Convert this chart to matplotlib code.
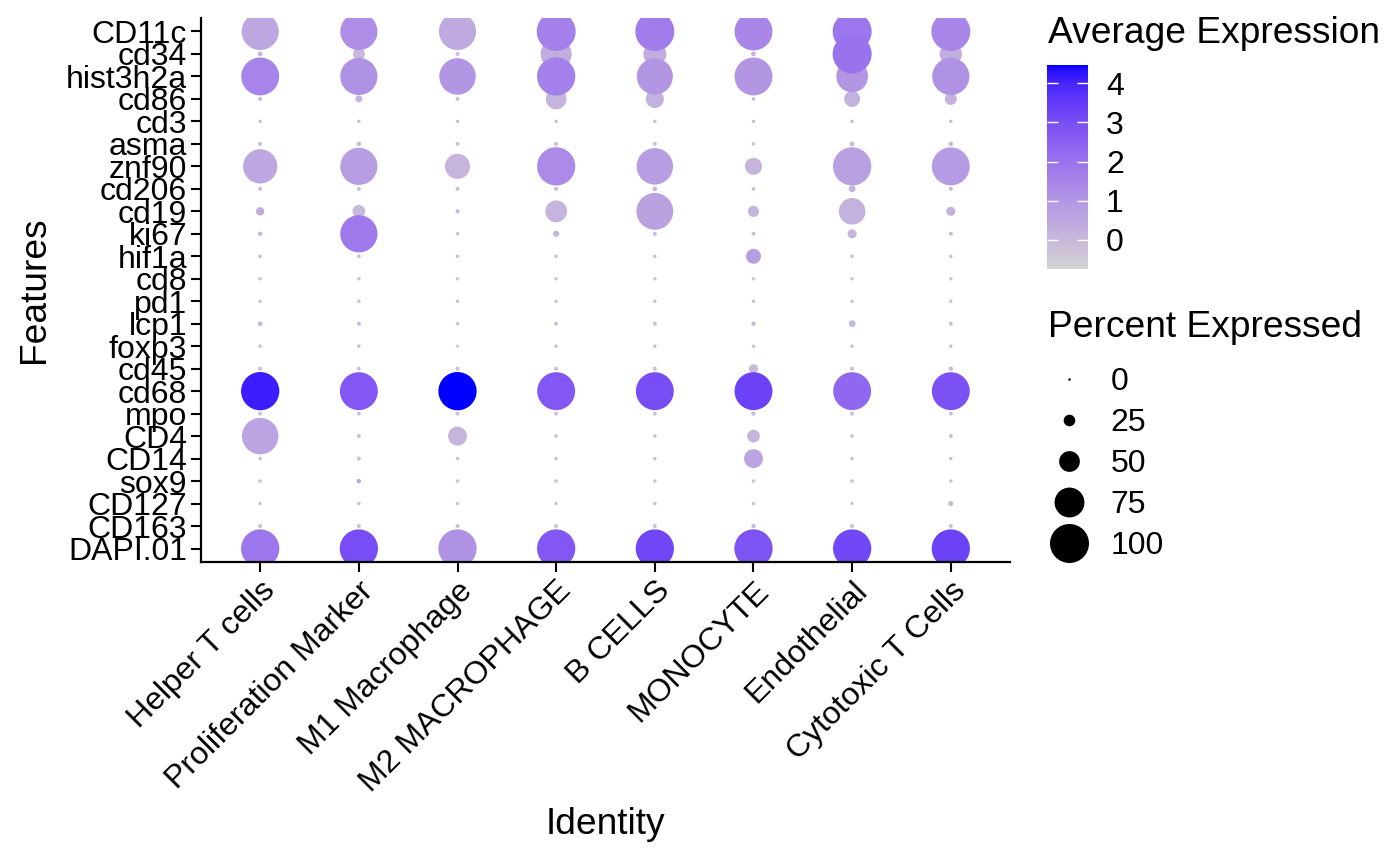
import numpy as np
import matplotlib
matplotlib.use("Agg")
import matplotlib.pyplot as plt
from matplotlib.colors import ListedColormap, Normalize
from matplotlib.cm import ScalarMappable
from matplotlib.lines import Line2D

plt.rcParams['font.family'] = ['Liberation Sans', 'DejaVu Sans']

# data (features listed top to bottom as shown on the y axis)
features = ["CD11c", "cd34", "hist3h2a", "cd86", "cd3", "asma", "znf90", "cd206",
            "cd19", "ki67", "hif1a", "cd8", "pd1", "lcp1", "foxp3", "cd45", "cd68",
            "mpo", "CD4", "CD14", "sox9", "CD127", "CD163", "DAPI.01"]

identities = ["Helper T cells", "Proliferation Marker", "M1 Macrophage", "M2 MACROPHAGE",
              "B CELLS", "MONOCYTE", "Endothelial", "Cytotoxic T Cells"]

pct_expressed = [
    [95, 95, 95, 100, 100, 97, 100, 100],
    [6, 26, 4, 78, 56, 6, 100, 54],
    [97, 95, 93, 98, 92, 97, 80, 95],
    [4, 12, 4, 50, 43, 3, 37, 26],
    [3, 3, 3, 3, 3, 3, 3, 3],
    [4, 6, 4, 4, 4, 3, 6, 6],
    [87, 95, 62, 98, 93, 40, 98, 97],
    [4, 4, 4, 4, 6, 3, 12, 4],
    [16, 28, 4, 53, 94, 24, 66, 18],
    [5, 95, 3, 10, 4, 4, 18, 4],
    [3, 3, 3, 3, 3, 34, 3, 3],
    [3, 3, 3, 3, 3, 3, 3, 3],
    [3, 3, 3, 3, 3, 3, 3, 3],
    [6, 4, 3, 4, 4, 5, 12, 4],
    [3, 3, 3, 3, 3, 3, 3, 3],
    [4, 4, 4, 4, 4, 18, 4, 5],
    [98, 97, 98, 97, 97, 97, 97, 97],
    [4, 4, 4, 4, 4, 5, 4, 4],
    [93, 4, 45, 3, 3, 28, 3, 4],
    [3, 4, 3, 3, 3, 45, 3, 3],
    [3, 5, 3, 3, 3, 3, 3, 3],
    [3, 3, 3, 3, 3, 3, 3, 7],
    [4, 4, 4, 4, 4, 5, 4, 4],
    [98, 98, 98, 98, 98, 98, 98, 98],
]

avg_expression = [
    [0.5, 1.2, 0.4, 1.6, 1.7, 1.4, 1.9, 1.4],
    [0.2, 0.0, 0.0, 0.3, 0.3, 0.1, 2.0, 0.3],
    [1.5, 1.1, 1.0, 1.6, 1.0, 1.0, 1.0, 1.1],
    [0.0, 0.1, -0.1, 0.1, 0.2, -0.1, 0.2, 0.2],
    [-0.2, -0.2, -0.2, -0.2, -0.2, -0.2, -0.2, -0.2],
    [-0.1, 0.0, -0.2, -0.1, -0.1, -0.2, 0.0, 0.0],
    [0.5, 0.8, 0.1, 1.3, 0.8, 0.1, 0.7, 0.85],
    [-0.1, -0.1, -0.2, 0.0, 0.0, -0.1, 0.1, 0.0],
    [0.3, 0.0, 0.1, 0.1, 0.65, 0.1, 0.2, 0.2],
    [0.1, 1.8, -0.2, 0.1, -0.1, -0.1, 0.1, 0.0],
    [-0.2, -0.2, -0.2, -0.2, -0.2, 0.8, -0.2, -0.2],
    [-0.3, -0.3, -0.3, -0.3, -0.3, -0.3, -0.3, -0.3],
    [-0.3, -0.3, -0.3, -0.3, -0.3, -0.3, -0.3, -0.3],
    [0.1, 0.0, -0.2, -0.1, -0.1, 0.0, 0.0, -0.1],
    [-0.3, -0.3, -0.74, -0.3, -0.3, -0.3, -0.3, -0.3],
    [-0.1, -0.1, -0.1, -0.1, -0.1, 0.0, -0.1, 0.0],
    [4.1, 2.75, 4.46, 2.75, 3.0, 3.3, 2.3, 2.9],
    [-0.2, -0.2, -0.2, -0.2, -0.2, -0.1, -0.2, -0.2],
    [0.6, -0.1, 0.1, -0.2, -0.2, 0.1, -0.2, -0.1],
    [-0.2, -0.2, -0.2, -0.2, -0.2, 0.6, -0.2, -0.2],
    [-0.2, 0.5, -0.2, -0.2, -0.2, -0.2, -0.2, -0.2],
    [-0.3, -0.3, -0.3, -0.3, -0.3, -0.3, -0.3, 0.0],
    [-0.2, -0.2, -0.2, -0.2, -0.2, 0.0, -0.2, -0.2],
    [1.9, 3.0, 1.1, 2.75, 3.2, 2.85, 3.15, 3.3],
]

legend_pcts = [0, 25, 50, 75, 100]
color_ticks = [0, 1, 2, 3, 4]

W, H, DPI = 1400, 865, 100


#lab helpers so the gradient looks like ggplot's lightgrey -> blue
WHITE = np.array([0.95047, 1.0, 1.08883])
M_RGB2XYZ = np.array([[0.4124564, 0.3575761, 0.1804375],
                      [0.2126729, 0.7151522, 0.0721750],
                      [0.0193339, 0.1191920, 0.9503041]])


def rgb_to_lab(rgb):
    rgb = np.asarray(rgb, dtype=float)
    lin = np.where(rgb <= 0.04045, rgb / 12.92, ((rgb + 0.055) / 1.055) ** 2.4)
    xyz = M_RGB2XYZ @ lin / WHITE
    d = 6 / 29
    f = np.where(xyz > d ** 3, np.cbrt(xyz), xyz / (3 * d * d) + 4 / 29)
    return np.array([116 * f[1] - 16, 500 * (f[0] - f[1]), 200 * (f[1] - f[2])])


def lab_to_rgb(lab):
    L, a, b = lab
    fy = (L + 16) / 116
    fx = fy + a / 500
    fz = fy - b / 200
    d = 6 / 29
    f = np.array([fx, fy, fz])
    xyz = np.where(f > d, f ** 3, 3 * d * d * (f - 4 / 29)) * WHITE
    lin = np.linalg.solve(M_RGB2XYZ, xyz)
    lin = np.clip(lin, 0, 1)
    rgb = np.where(lin <= 0.0031308, 12.92 * lin, 1.055 * lin ** (1 / 2.4) - 0.055)
    return np.clip(rgb, 0, 1)


def lab_gradient(c_low, c_high, n=256) -> ListedColormap:
    lo = rgb_to_lab(c_low)
    hi = rgb_to_lab(c_high)
    cols = [lab_to_rgb(lo + t * (hi - lo)) for t in np.linspace(0, 1, n)]
    return ListedColormap(cols)


#ggplot-like radius scale, diameter in pixels -> points
def pct_to_diam_pt(pct):
    d_px = 2.5 + 0.365 * np.asarray(pct, dtype=float)
    return d_px * 72 / DPI


cmap = lab_gradient((211 / 255, 211 / 255, 211 / 255), (0, 0, 1))

pct = np.array(pct_expressed)
expr = np.array(avg_expression)
n_feat, n_id = pct.shape

yy, xx = np.meshgrid(n_feat - 1 - np.arange(n_feat), np.arange(n_id), indexing='ij')
xs, ys, ps, es = xx.ravel(), yy.ravel(), pct.ravel(), expr.ravel()
order = np.lexsort((es, ps))

norm = Normalize(vmin=expr.min(), vmax=expr.max())

fig = plt.figure(figsize=(W / DPI, H / DPI), dpi=DPI)
ax = fig.add_axes([201 / W, 1 - 562 / H, (1010 - 201) / W, (562 - 18) / H])

ax.scatter(xs[order], ys[order], s=pct_to_diam_pt(ps[order]) ** 2,
           c=es[order], cmap=cmap, norm=norm, linewidths=0)

ax.set_xlim(-0.6, n_id - 0.4)
ax.set_ylim(-0.6, n_feat - 0.4)
ax.set_xticks(range(n_id))
ax.set_xticklabels(identities, rotation=45, ha='right', rotation_mode='anchor')
ax.set_yticks(range(n_feat))
ax.set_yticklabels(features[::-1])
ax.tick_params(labelsize=23, length=7, width=1.5, pad=3)
for side in ("top", "right"):
    ax.spines[side].set_visible(False)
for side in ("left", "bottom"):
    ax.spines[side].set_linewidth(1.6)

ax.set_xlabel("Identity", fontsize=26.7, labelpad=6)
ax.set_ylabel("Features", fontsize=26.7, labelpad=10)

#colour legend
cax = fig.add_axes([1047 / W, 1 - 269 / H, 41 / W, 204 / H])
cb = fig.colorbar(ScalarMappable(norm=norm, cmap=cmap), cax=cax)
cb.outline.set_visible(False)
cb.set_ticks(color_ticks)
cax.yaxis.set_ticks_position('both')
cax.tick_params(direction='in', colors='white', length=8, width=1, labelsize=23,
                labelcolor='black', pad=13)
cax.yaxis.set_tick_params(labelleft=False, labelright=True)
fig.text(1048 / W, 1 - 43 / H, "Average Expression", fontsize=26.7, va='baseline', ha='left')

#size legend
fig.text(1048 / W, 1 - 337 / H, "Percent Expressed", fontsize=26.7, va='baseline', ha='left')
handles = [Line2D([], [], ls='', marker='o', color='black',
                  markersize=pct_to_diam_pt(p), markeredgewidth=0) for p in legend_pcts]
fig.legend(handles, [str(p) for p in legend_pcts],
           loc='center left', bbox_to_anchor=(1048 / W, 1 - 464 / H),
           frameon=False, fontsize=23,
           borderpad=0, borderaxespad=0, handlelength=1.3, handletextpad=0.65,
           labelspacing=0.34)

fig.savefig("out.png", dpi=DPI)
